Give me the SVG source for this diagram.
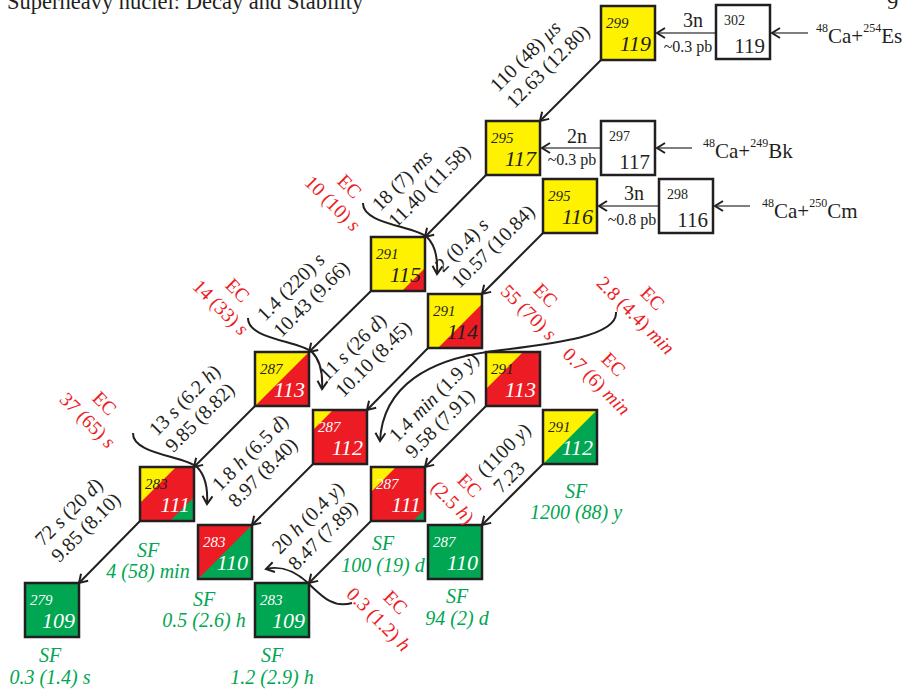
<svg xmlns="http://www.w3.org/2000/svg" width="905" height="695" viewBox="0 0 905 695">
<style>
text{font-family:"Liberation Serif","Times New Roman",serif}
.bd{fill:none;stroke:#231f20;stroke-width:2.5}
.wb{fill:#fff;stroke:#231f20;stroke-width:2.5}
.m{font-size:15px;font-style:italic}
.z{font-size:22px;font-style:italic;text-anchor:end}
.wm{font-size:14px;fill:#231f20}
.wz{font-size:21px;text-anchor:end;fill:#231f20}
.k{fill:#231f20}
.w{fill:#fff}
.Y{fill:#fff200}.R{fill:#ed1c24}.G{fill:#00a651}
.lbl{font-size:20px;fill:#231f20}
.ec{font-size:19.5px;fill:#ed1c24;text-anchor:middle}
.sf{font-size:20px;fill:#00a651;font-style:italic;text-anchor:middle}
.rl{font-size:20px;fill:#231f20;text-anchor:middle}
.cs{font-size:16px;fill:#231f20;text-anchor:middle}
.re{font-size:21px;fill:#231f20}
.sup{font-size:12px}
.i{font-style:italic}
.arr{stroke:#231f20;stroke-width:2;fill:none;marker-end:url(#ah)}
.rx{stroke:#555;stroke-width:1.6;fill:none;marker-end:url(#ah)}
</style>
<defs>
<marker id="ah" markerUnits="userSpaceOnUse" markerWidth="14" markerHeight="14" refX="10" refY="6" orient="auto">
<path d="M2,1 L10,6 L2,11" fill="none" stroke="#231f20" stroke-width="2"/>
</marker>
</defs>

<text x="7" y="9" font-size="22.5" fill="#231f20">Superheavy nuclei: Decay and Stability</text>
<text x="887" y="9" font-size="22.5" fill="#231f20">9</text>

<!-- connectors -->
<g id="connectors">
<line class="rx" x1="808" y1="33" x2="772" y2="33"/>
<line class="rx" x1="716" y1="33" x2="657" y2="33"/>
<line class="rx" x1="692" y1="148" x2="657" y2="148"/>
<line class="rx" x1="601" y1="148" x2="542" y2="148"/>
<line class="rx" x1="750" y1="206" x2="715" y2="206"/>
<line class="rx" x1="659" y1="206" x2="599" y2="206"/>

<line class="arr" x1="601" y1="60" x2="540" y2="121"/>
<line class="arr" x1="486" y1="175" x2="425" y2="237"/>
<line class="arr" x1="543" y1="233" x2="482" y2="294"/>
<line class="arr" x1="371" y1="291" x2="309" y2="352"/>
<line class="arr" x1="428" y1="348" x2="367" y2="410"/>
<line class="arr" x1="486" y1="406" x2="425" y2="467"/>
<line class="arr" x1="543" y1="464" x2="482" y2="525"/>
<line class="arr" x1="255" y1="406" x2="194" y2="467"/>
<line class="arr" x1="313" y1="464" x2="252" y2="525"/>
<line class="arr" x1="371" y1="521" x2="309" y2="583"/>
<line class="arr" x1="140" y1="521" x2="79" y2="583"/>

<path class="arr" d="M363,203 C362,224 414,226 427,237 C436,246 438,258 437,274"/>
<path class="arr" transform="translate(-115,115)" d="M363,203 C362,224 414,226 427,237 C436,246 438,258 437,274"/>
<path class="arr" transform="translate(-230,230)" d="M363,203 C362,224 414,226 427,237 C436,246 438,258 437,274"/>
<path class="arr" d="M616,312 C618,336 560,343 487,352 C432,360 383,384 380,441"/>
<path class="arr" d="M352,603 C332,609 320,594 308,583 C296,572 283,565 266,569"/>
</g>

<!-- reaction labels -->
<g id="reactions">
<text class="re" x="816" y="43"><tspan class="sup" dy="-11">48</tspan><tspan dy="11">Ca+</tspan><tspan class="sup" dy="-11">254</tspan><tspan dy="11">Es</tspan></text>
<text class="re" x="703" y="158"><tspan class="sup" dy="-11">48</tspan><tspan dy="11">Ca+</tspan><tspan class="sup" dy="-11">249</tspan><tspan dy="11">Bk</tspan></text>
<text class="re" x="762" y="218"><tspan class="sup" dy="-11">48</tspan><tspan dy="11">Ca+</tspan><tspan class="sup" dy="-11">250</tspan><tspan dy="11">Cm</tspan></text>
<text class="rl" x="693" y="27">3n</text>
<text class="cs" x="688" y="52">~0.3 pb</text>
<text class="rl" x="577" y="143">2n</text>
<text class="cs" x="572" y="165">~0.3 pb</text>
<text class="rl" x="634" y="200">3n</text>
<text class="cs" x="632" y="225">~0.8 pb</text>
</g>

<!-- nodes -->
<g id="n302-119" transform="translate(716,5)"><rect class="wb" width="54" height="54"/><text class="wm" x="8" y="20">302</text><text class="wz" x="49" y="48">119</text></g>
<g id="n297-117" transform="translate(601,121)"><rect class="wb" width="54" height="54"/><text class="wm" x="8" y="20">297</text><text class="wz" x="49" y="48">117</text></g>
<g id="n298-116" transform="translate(659,179)"><rect class="wb" width="54" height="54"/><text class="wm" x="8" y="20">298</text><text class="wz" x="49" y="48">116</text></g>

<g id="n299-119" transform="translate(601,6)"><rect class="Y" width="54" height="54"/><rect class="bd" width="54" height="54"/><text class="m k" x="5" y="22">299</text><text class="z k" x="50" y="45">119</text></g>
<g id="n295-117" transform="translate(486,121)"><rect class="Y" width="54" height="54"/><rect class="bd" width="54" height="54"/><text class="m k" x="5" y="22">295</text><text class="z k" x="50" y="45">117</text></g>
<g id="n295-116" transform="translate(543,179)"><rect class="Y" width="54" height="54"/><rect class="bd" width="54" height="54"/><text class="m k" x="5" y="22">295</text><text class="z k" x="50" y="45">116</text></g>

<g id="n291-115" transform="translate(371,237)"><rect class="Y" width="54" height="54"/><polygon class="R" points="54,31 54,54 31,54"/><rect class="bd" width="54" height="54"/><text class="m k" x="5" y="22">291</text><text class="z k" x="50" y="45">115</text></g>
<g id="n291-114" transform="translate(428,294)"><rect class="Y" width="54" height="54"/><polygon class="R" points="54,10 54,54 10,54"/><rect class="bd" width="54" height="54"/><text class="m k" x="5" y="22">291</text><text class="z k" x="50" y="45">114</text></g>
<g id="n291-113" transform="translate(486,352)"><rect class="R" width="54" height="54"/><polygon class="Y" points="0,0 37,0 0,37"/><rect class="bd" width="54" height="54"/><text class="m k" x="5" y="22">291</text><text class="z w" x="50" y="45">113</text></g>
<g id="n291-112" transform="translate(543,410)"><rect class="Y" width="54" height="54"/><polygon class="G" points="54,0 54,54 0,54"/><rect class="bd" width="54" height="54"/><text class="m k" x="5" y="22">291</text><text class="z w" x="50" y="45">112</text></g>

<g id="n287-113" transform="translate(255,352)"><rect class="Y" width="54" height="54"/><polygon class="R" points="54,0 54,54 0,54"/><rect class="bd" width="54" height="54"/><text class="m k" x="5" y="22">287</text><text class="z w" x="50" y="45">113</text></g>
<g id="n287-112" transform="translate(313,410)"><rect class="R" width="54" height="54"/><polygon class="Y" points="0,0 20,0 0,20"/><rect class="bd" width="54" height="54"/><text class="m w" x="5" y="22">287</text><text class="z w" x="50" y="45">112</text></g>
<g id="n287-111" transform="translate(371,467)"><rect class="R" width="54" height="54"/><polygon class="Y" points="0,0 25,0 0,25"/><polygon class="G" points="54,42 54,54 42,54"/><rect class="bd" width="54" height="54"/><text class="m w" x="5" y="22">287</text><text class="z w" x="50" y="45">111</text></g>
<g id="n287-110" transform="translate(428,525)"><rect class="G" width="54" height="54"/><rect class="bd" width="54" height="54"/><text class="m w" x="5" y="22">287</text><text class="z w" x="50" y="45">110</text></g>

<g id="n283-111" transform="translate(140,467)"><rect class="R" width="54" height="54"/><polygon class="Y" points="0,0 36,0 0,36"/><polygon class="G" points="54,30 54,54 30,54"/><rect class="bd" width="54" height="54"/><text class="m k" x="5" y="22">283</text><text class="z w" x="50" y="45">111</text></g>
<g id="n283-110" transform="translate(198,525)"><rect class="R" width="54" height="54"/><polygon class="G" points="54,0 54,54 0,54"/><rect class="bd" width="54" height="54"/><text class="m w" x="5" y="22">283</text><text class="z w" x="50" y="45">110</text></g>
<g id="n283-109" transform="translate(255,583)"><rect class="G" width="54" height="54"/><rect class="bd" width="54" height="54"/><text class="m w" x="5" y="22">283</text><text class="z w" x="50" y="45">109</text></g>
<g id="n279-109" transform="translate(25,583)"><rect class="G" width="54" height="54"/><rect class="bd" width="54" height="54"/><text class="m w" x="5" y="22">279</text><text class="z w" x="50" y="45">109</text></g>

<!-- alpha decay labels -->
<g id="alpha-labels">
<g transform="translate(498,93) rotate(-45)"><text class="lbl">110 (48) <tspan class="i">μs</tspan></text><text class="lbl" y="23">12.63 (12.80)</text></g>
<g transform="translate(380,212) rotate(-45)"><text class="lbl">18 (7) <tspan class="i">ms</tspan></text><text class="lbl" y="23">11.40 (11.58)</text></g>
<g transform="translate(443,273) rotate(-45)"><text class="lbl">2 (0.4) <tspan class="i">s</tspan></text><text class="lbl" y="23">10.57 (10.84)</text></g>
<g transform="translate(265,322) rotate(-45)"><text class="lbl">1.4 (220) <tspan class="i">s</tspan></text><text class="lbl" y="23">10.43 (9.66)</text></g>
<g transform="translate(327,382) rotate(-45)"><text class="lbl">11 <tspan class="i">s</tspan> (26 <tspan class="i">d</tspan>)</text><text class="lbl" y="23">10.10 (8.45)</text></g>
<g transform="translate(397,443) rotate(-45)"><text class="lbl">1.4 <tspan class="i">min</tspan> (1.9 <tspan class="i">y</tspan>)</text><text class="lbl" y="23">9.58 (7.91)</text></g>
<g transform="translate(485,478) rotate(-45)"><text class="lbl">(1100 <tspan class="i">y</tspan>)</text><text class="lbl" y="23">7.23</text></g>
<g transform="translate(157,437) rotate(-45)"><text class="lbl">13 <tspan class="i">s</tspan> (6.2 <tspan class="i">h</tspan>)</text><text class="lbl" y="23">9.85 (8.82)</text></g>
<g transform="translate(220,492) rotate(-45)"><text class="lbl">1.8 <tspan class="i">h</tspan> (6.5 <tspan class="i">d</tspan>)</text><text class="lbl" y="23">8.97 (8.40)</text></g>
<g transform="translate(280,555) rotate(-45)"><text class="lbl">20 <tspan class="i">h</tspan> (0.4 <tspan class="i">y</tspan>)</text><text class="lbl" y="23">8.47 (7.89)</text></g>
<g transform="translate(43,547) rotate(-45)"><text class="lbl">72 <tspan class="i">s</tspan> (20 <tspan class="i">d</tspan>)</text><text class="lbl" y="23">9.85 (8.10)</text></g>
</g>

<!-- EC labels -->
<g id="ec-labels">
<g transform="translate(345,191) rotate(45)"><text class="ec">EC</text><text class="ec" y="24">10 (10) <tspan class="i">s</tspan></text></g>
<g transform="translate(233,295) rotate(45)"><text class="ec">EC</text><text class="ec" y="24">14 (33) <tspan class="i">s</tspan></text></g>
<g transform="translate(100,408) rotate(45)"><text class="ec">EC</text><text class="ec" y="24">37 (65) <tspan class="i">s</tspan></text></g>
<g transform="translate(541,300) rotate(45)"><text class="ec">EC</text><text class="ec" y="24">55 (70) <tspan class="i">s</tspan></text></g>
<g transform="translate(648,303) rotate(45)"><text class="ec">EC</text><text class="ec" y="24">2.8 (4.4) <tspan class="i">min</tspan></text></g>
<g transform="translate(609,369) rotate(45)"><text class="ec">EC</text><text class="ec" y="24">0.7 (6) <tspan class="i">min</tspan></text></g>
<g transform="translate(465,490) rotate(45)"><text class="ec">EC</text><text class="ec" y="24">(2.5 <tspan class="i">h</tspan>)</text></g>
<g transform="translate(391,607) rotate(45)"><text class="ec">EC</text><text class="ec" y="24">0.3 (1.2) <tspan class="i">h</tspan></text></g>
</g>

<!-- SF labels -->
<g id="sf-labels">
<text class="sf" x="576" y="498">SF</text><text class="sf" x="576" y="519">1200 (88) y</text>
<text class="sf" x="383" y="550">SF</text><text class="sf" x="383" y="572">100 (19) d</text>
<text class="sf" x="457" y="603">SF</text><text class="sf" x="457" y="625">94 (2) d</text>
<text class="sf" x="148" y="557">SF</text><text class="sf" x="148" y="578">4 (58) min</text>
<text class="sf" x="204" y="606">SF</text><text class="sf" x="204" y="627">0.5 (2.6) h</text>
<text class="sf" x="50" y="662">SF</text><text class="sf" x="50" y="684">0.3 (1.4) s</text>
<text class="sf" x="272" y="662">SF</text><text class="sf" x="272" y="684">1.2 (2.9) h</text>
</g>
</svg>
